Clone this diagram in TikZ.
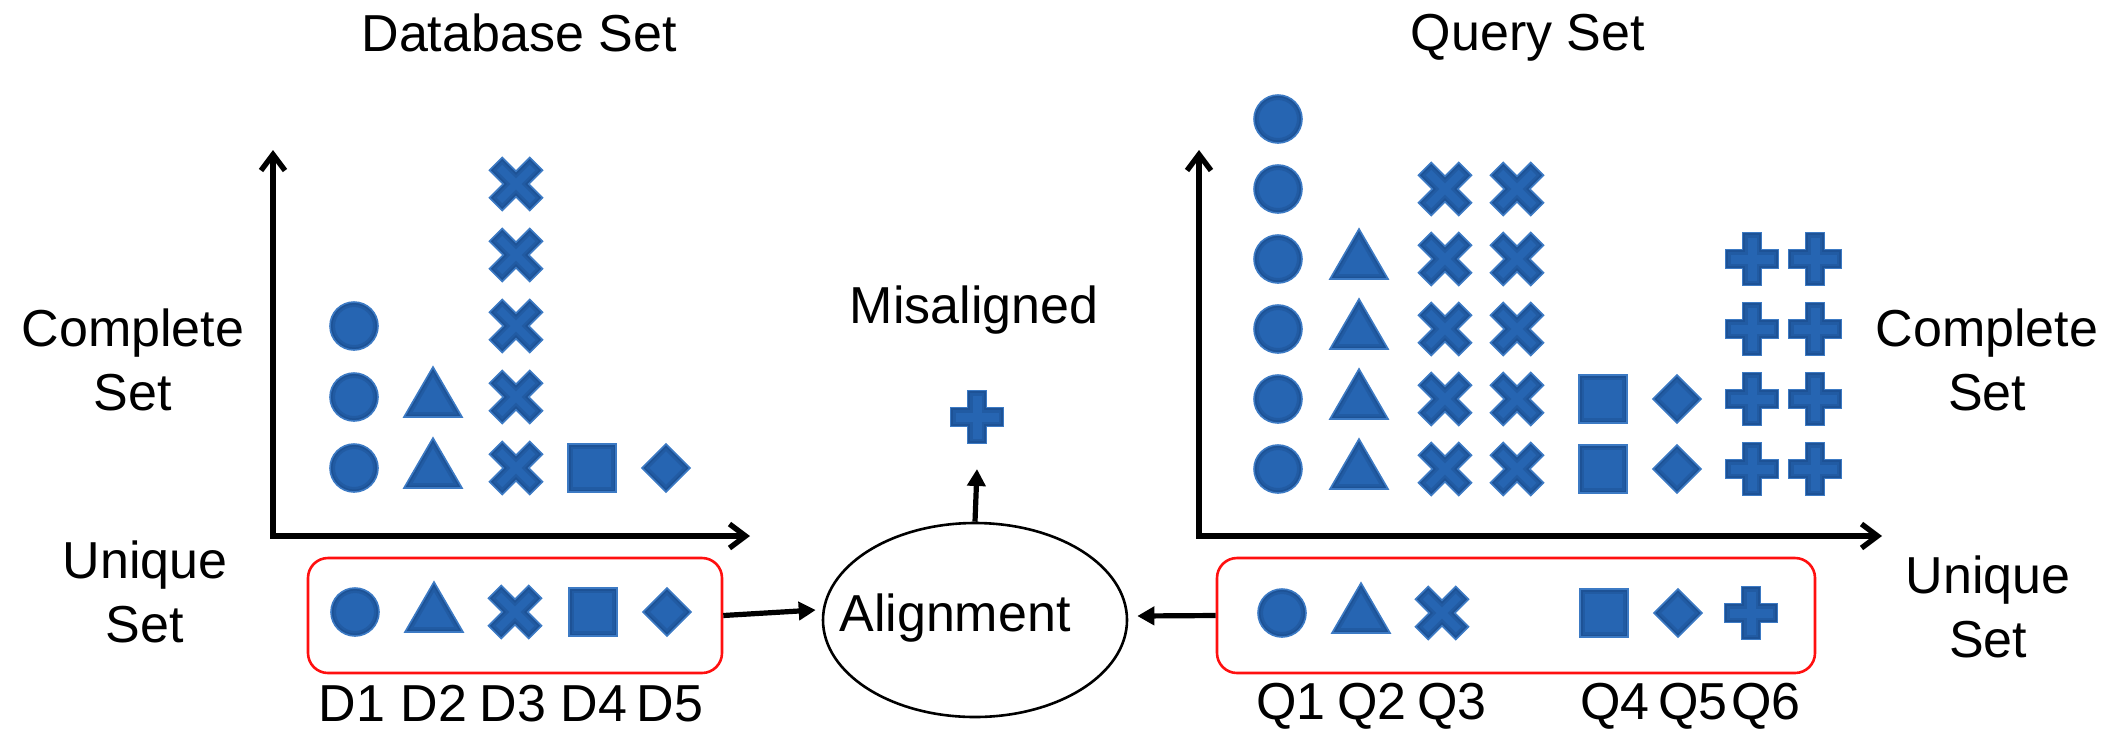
\documentclass[tikz,border=0pt]{standalone}
\usepackage{fontspec}
\setmainfont{Liberation Sans}
\usetikzlibrary{shapes.geometric,arrows.meta}
\definecolor{shpblue}{HTML}{2665B2}
\definecolor{shpedge}{HTML}{3C7AC4}
\definecolor{shpdark}{HTML}{163F7A}
\definecolor{boxred}{HTML}{FF1010}
\newcommand\Sdraw[1]{\begin{scope}\path[fill=shpblue] #1; \clip #1; \draw[rima] #1; \draw[rimb] #1;\end{scope}\path[draw=shpedge,line width=0.8pt,line join=miter] #1;}
\newcommand\Scirc[2]{\Sdraw{({#1},{#2}) circle[radius=12pt]}}
\newcommand\Stri[2]{\Sdraw{({#1-29},{#2+20}) -- ({#1+29},{#2+20}) -- ({#1},{#2-30}) -- cycle}}
\newcommand\Ssq[2]{\Sdraw{({#1-24},{#2-24}) rectangle ({#1+24},{#2+24})}}
\newcommand\Sdia[2]{\Sdraw{({#1-24},{#2}) -- ({#1},{#2-24}) -- ({#1+24},{#2}) -- ({#1},{#2+24}) -- cycle}}
\newcommand\Splus[2]{\begin{scope}[shift={({#1},{#2})}]\Sdraw{(-9.5,-26.5) -- (9.5,-26.5) -- (9.5,-9.5) -- (26.5,-9.5) -- (26.5,9.5) -- (9.5,9.5) -- (9.5,26.5) -- (-9.5,26.5) -- (-9.5,9.5) -- (-26.5,9.5) -- (-26.5,-9.5) -- (-9.5,-9.5) -- cycle}\end{scope}}
\newcommand\Scross[2]{\begin{scope}[shift={({#1},{#2})},rotate=45]\Sdraw{(-9,-28.5) -- (9,-28.5) -- (9,-9) -- (28.5,-9) -- (28.5,9) -- (9,9) -- (9,28.5) -- (-9,28.5) -- (-9,9) -- (-28.5,9) -- (-28.5,-9) -- (-9,-9) -- cycle}\end{scope}}
\begin{document}
\begin{tikzpicture}[x=0.5pt,y=-0.5pt,
  rima/.style={draw=shpdark,line width=5pt,draw opacity=0.25,line join=miter},
  rimb/.style={draw=shpdark,line width=2.5pt,draw opacity=0.3,line join=miter},
  lbl/.style={font=\fontsize{26}{32}\selectfont,inner sep=0pt,anchor=base,align=center},
  axis/.style={line width=2.7pt,line join=miter,{Straight Barb[length=8pt,width=12pt]}-{Straight Barb[length=8pt,width=12pt]}},
  arr/.style={line width=2.6pt,-{Triangle[length=8.5pt,width=9pt]}},
  ubox/.style={draw=boxred,line width=1.3pt,rounded corners=10pt,minimum height=57.5pt,inner sep=0pt},
]
\useasboundingbox (0,0) rectangle (2109,730);

% titles and side labels
\node[lbl] (dbt) at (519,51) {Database Set};
\node[lbl] (qst) at (1528,50) {Query Set};
\node[lbl] (dcs) at (133,410) {Complete\\Set};
\node[lbl] (qcs) at (1987,410) {Complete\\Set};
\node[lbl] (dus) at (145,642) {Unique\\Set};
\node[lbl] (qus) at (1988,657) {Unique\\Set};
\node[lbl] (mis) at (974,323) {Misaligned};

% axes
\coordinate (dY) at (273,150);
\coordinate (dO) at (273,536);
\coordinate (dX) at (750,536);
\draw[axis] (dY) -- (dO) -- (dX);
\coordinate (qY) at (1199,150);
\coordinate (qO) at (1199,536);
\coordinate (qX) at (1882,536);
\draw[axis] (qY) -- (qO) -- (qX);

% database complete set
\foreach \k in {0,1,2} {\Scirc{354}{468-71*\k}}
\foreach \k in {0,1} {\Stri{433}{468-71*\k}}
\foreach \k in {0,...,4} {\Scross{516}{468-71*\k}}
\Ssq{592}{468}
\Sdia{666}{468}

% query complete set
\foreach \k in {0,...,5} {\Scirc{1278}{469-70*\k}}
\foreach \k in {0,...,3} {\Stri{1359}{469-70*\k}}
\foreach \k in {0,...,4} {\Scross{1445}{469-70*\k}\Scross{1517}{469-70*\k}}
\foreach \k in {0,1} {\Ssq{1603}{469-70*\k}\Sdia{1677}{469-70*\k}}
\foreach \k in {0,...,3} {\Splus{1752}{469-70*\k}\Splus{1815}{469-70*\k}}

% unique sets
\node[ubox,minimum width=207pt] (dbox) at (515,615.5) {};
\node[ubox,minimum width=299pt] (qbox) at (1516,615.5) {};
\Scirc{355}{612}
\Stri{434}{612}
\Scross{515}{612}
\Ssq{593}{612}
\Sdia{667}{612}
\Scirc{1282}{613}
\Stri{1361}{613}
\Scross{1442}{613}
\Ssq{1604}{613}
\Sdia{1678}{613}
\Splus{1751}{613}

\node[lbl] (d1) at (352,721) {D1};
\node[lbl] (d2) at (434,721) {D2};
\node[lbl] (d3) at (513,721) {D3};
\node[lbl] (d4) at (594,721) {D4};
\node[lbl] (d5) at (670,721) {D5};
\node[lbl] (q1) at (1291,719) {Q1};
\node[lbl] (q2) at (1372,719) {Q2};
\node[lbl] (q3) at (1452,719) {Q3};
\node[lbl] (q4) at (1615,719) {Q4};
\node[lbl] (q5) at (1693,719) {Q5};
\node[lbl] (q6) at (1766,719) {Q6};

% alignment
\node[draw,ellipse,line width=1.3pt,minimum width=152pt,minimum height=97pt,inner sep=0pt] (aln) at (975,620) {};
\node[lbl] (alt) at (955,631) {Alignment};
\coordinate (mplus) at (977,417);
\Splus{977}{417}

\draw[arr] (dbox.east) -- ([shift={(-6,-10)}]aln.west);
\draw[arr] (qbox.west) -- ([shift={(9,-4)}]aln.east);
\draw[arr] (aln.north) -- ([shift={(0,52)}]mplus);
\end{tikzpicture}
\end{document}
